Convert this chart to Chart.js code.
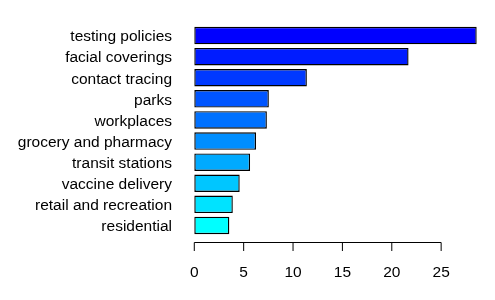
<!DOCTYPE html>
<html>
<head>
<meta charset="utf-8">
<script src="https://cdn.jsdelivr.net/npm/chart.js@4/dist/chart.umd.min.js"></script>
<style>
  html, body { margin: 0; padding: 0; background: #fff; }
  #wrap { width: 495px; height: 300px; }
</style>
</head>
<body>
<div id="wrap"><canvas id="chart" width="495" height="300"></canvas></div>
<script>
  // --- Data ---
  const categories = ["testing policies", "facial coverings", "contact tracing", "parks", "workplaces",
    "grocery and pharmacy", "transit stations", "vaccine delivery", "retail and recreation", "residential"];
  const values = [28.6, 21.7, 11.4, 7.55, 7.35, 6.25, 5.65, 4.6, 3.9, 3.55];
  const barColors = ["#0000FF", "#001CFF", "#0039FF", "#0055FF", "#0071FF",
    "#008EFF", "#00AAFF", "#00C6FF", "#00E3FF", "#00FFFF"];
  const xTicks = [0, 5, 10, 15, 20, 25];

  const FONT = "'Liberation Sans', Arial, sans-serif";

  // R-style x axis: line only from first to last tick, drawn a little below the bars
  const rAxis = {
    id: 'rAxis',
    afterDraw(chart) {
      const ctx = chart.ctx;
      const x = chart.scales.x;
      const y0 = chart.chartArea.bottom + 6.5;
      ctx.save();
      ctx.strokeStyle = '#000';
      ctx.lineWidth = 1;
      ctx.beginPath();
      ctx.moveTo(x.getPixelForValue(xTicks[0]), y0);
      ctx.lineTo(x.getPixelForValue(xTicks[xTicks.length - 1]), y0);
      xTicks.forEach(t => {
        const px = x.getPixelForValue(t);
        ctx.moveTo(px, y0);
        ctx.lineTo(px, y0 + 8.5);
      });
      ctx.stroke();
      ctx.restore();
    }
  };

  const maxVal = Math.max(...values);

  new Chart(document.getElementById('chart'), {
    type: 'bar',
    data: {
      labels: categories,
      datasets: [{
        data: values,
        backgroundColor: barColors,
        borderColor: '#000',
        borderWidth: 1.4,
        borderSkipped: false,
        categoryPercentage: 1,
        barPercentage: 0.83
      }]
    },
    options: {
      indexAxis: 'y',
      responsive: false,
      animation: false,
      layout: { padding: { top: 25, right: 7, bottom: 0, left: 0 } },
      plugins: { legend: { display: false }, tooltip: { enabled: false } },
      scales: {
        x: {
          type: 'linear',
          min: -0.04 * maxVal,
          max: maxVal * 1.04,
          grid: { display: false, drawTicks: false },
          border: { display: false },
          afterBuildTicks: scale => { scale.ticks = xTicks.map(v => ({ value: v })); },
          afterFit: scale => { scale.height = 64; },
          ticks: { color: '#000', padding: 27, maxRotation: 0, font: { family: FONT, size: 15.5 } }
        },
        y: {
          grid: { display: false, drawTicks: false },
          border: { display: false },
          afterFit: scale => { scale.width = 183; },
          ticks: { color: '#000', padding: 11, labelOffset: 1.5, autoSkip: false, font: { family: FONT, size: 15.5 } }
        }
      }
    },
    plugins: [rAxis]
  });
</script>
</body>
</html>
